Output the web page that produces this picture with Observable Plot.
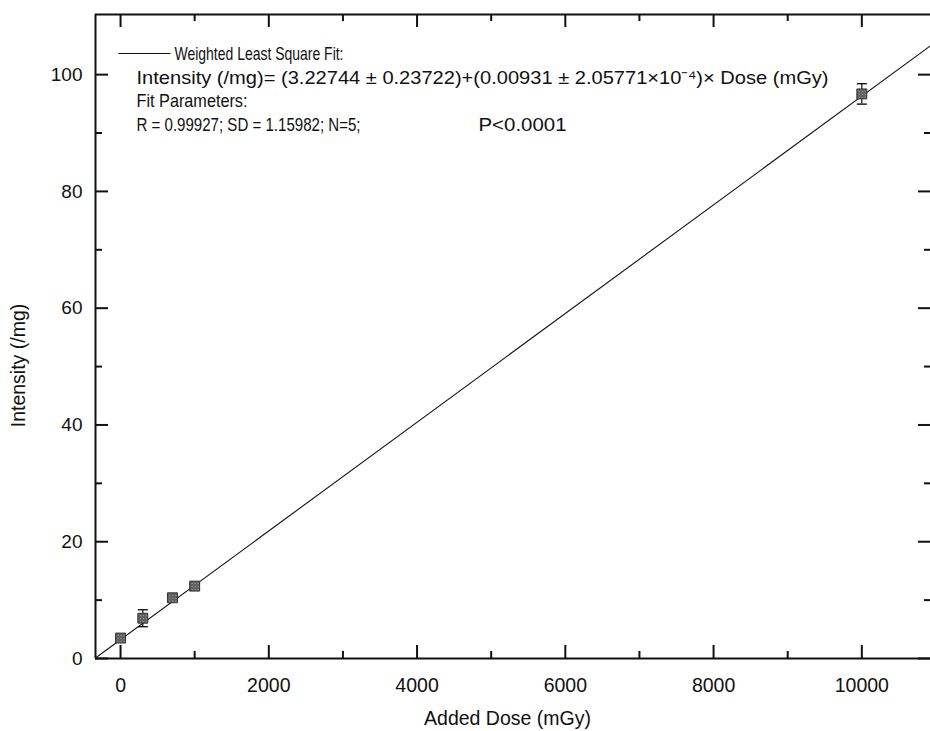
<!DOCTYPE html>
<html>
<head>
<meta charset="utf-8">
<script src="https://cdn.jsdelivr.net/npm/d3@7"></script>
<script src="https://cdn.jsdelivr.net/npm/@observablehq/plot@0.6"></script>
<style>
  html, body { margin: 0; padding: 0; background: #fff; overflow: hidden; }
  #chart svg { max-width: none; display: block; }
</style>
</head>
<body>
<div id="chart"></div>
<script>
// Measured intensity per added dose, with error-bar half-widths
const doses = [0, 300, 700, 1000, 10000];
const intensities = [3.5, 6.9, 10.4, 12.4, 96.7];
const errors = [0.4, 1.45, 0.6, 0.4, 1.75];

// Weighted least-square fit parameters
const fitIntercept = 3.22744;
const fitSlope = 0.00931;

// Axis ticks
const xMajorTicks = [0, 2000, 4000, 6000, 8000, 10000];
const xMinorTicks = [1000, 3000, 5000, 7000, 9000];
const yMajorTicks = [0, 20, 40, 60, 80, 100];
const yMinorTicks = [10, 30, 50, 70, 90];
const xDomain = [-338, 10940];
const yDomain = [0, 110.3];

// Fit annotation
const legendLabel = "Weighted Least Square Fit:";
const equationText = "Intensity (/mg)= (3.22744 \u00b1 0.23722)+(0.00931 \u00b1 2.05771\u00d710\u207b\u2074)\u00d7 Dose (mGy)";
const paramsTitle = "Fit Parameters:";
const paramsText = "R = 0.99927; SD = 1.15982; N=5;";
const pText = "P<0.0001";

const xTitle = "Added Dose (mGy)";
const yTitle = "Intensity (/mg)";

const points = doses.map((d, i) => ({
  dose: d, value: intensities[i], lo: intensities[i] - errors[i], hi: intensities[i] + errors[i]
}));
const fitLine = xDomain.map(x => ({dose: x, value: fitIntercept + fitSlope * x}));

// layout
const W = 940, H = 731, mT = 14, mB = 73, mL = 95, mR = 9;
const plotH = H - mT - mB, plotW = W - mL - mR;
const majorLen = 13, minorLen = 7;
const noteSize = 19;
// set widths of the annotation lines
const noteWidths = new Map([
  [legendLabel, 169], [equationText, 692], [paramsTitle, 111], [paramsText, 224], [pText, 88]
]);

// horizontal stroke used for error-bar caps and the legend sample
const hLine = {
  draw(context, size) {
    const r = Math.sqrt(size / Math.PI);
    context.moveTo(-r, 0);
    context.lineTo(r, 0);
  }
};

const font = "'Liberation Sans', Arial, Helvetica, sans-serif";
const ink = "#111";
const note = (text, dx, dy) => Plot.text([text], {
  frameAnchor: "top-left", dx, dy, textAnchor: "start", lineAnchor: "middle",
  fontSize: noteSize, fill: ink, ariaDescription: "note"
});

const chart = Plot.plot({
  width: W, height: H,
  marginTop: mT, marginBottom: mB, marginLeft: mL, marginRight: mR,
  style: {fontFamily: font, color: ink, background: "#fff"},
  x: {domain: xDomain},
  y: {domain: yDomain},
  marks: [
    // fit line
    Plot.line(fitLine, {x: "dose", y: "value", stroke: ink, strokeWidth: 1.1, clip: true}),
    // error bars
    Plot.ruleX(points, {x: "dose", y1: "lo", y2: "hi", stroke: ink, strokeWidth: 1.2}),
    Plot.dot(points, {x: "dose", y: "lo", symbol: hLine, r: 5, stroke: ink, strokeWidth: 1.4, fill: "none"}),
    Plot.dot(points, {x: "dose", y: "hi", symbol: hLine, r: 5, stroke: ink, strokeWidth: 1.4, fill: "none"}),
    // data squares
    Plot.dot(points, {x: "dose", y: "value", symbol: "square", r: 5.6, fill: "url(#hatch)", stroke: "#333", strokeWidth: 1}),

    // inward ticks: bottom and top
    Plot.tickX(xMajorTicks, {x: d => d, insetTop: plotH - majorLen, stroke: ink, strokeWidth: 2}),
    Plot.tickX(xMinorTicks, {x: d => d, insetTop: plotH - minorLen, stroke: ink, strokeWidth: 2}),
    Plot.tickX(xMajorTicks, {x: d => d, insetBottom: plotH - majorLen, stroke: ink, strokeWidth: 2}),
    Plot.tickX(xMinorTicks, {x: d => d, insetBottom: plotH - minorLen, stroke: ink, strokeWidth: 2}),
    // inward ticks: left and right
    Plot.tickY(yMajorTicks, {y: d => d, insetRight: plotW - majorLen, stroke: ink, strokeWidth: 2}),
    Plot.tickY(yMinorTicks, {y: d => d, insetRight: plotW - minorLen, stroke: ink, strokeWidth: 2}),
    Plot.tickY(yMajorTicks, {y: d => d, insetLeft: plotW - majorLen, stroke: ink, strokeWidth: 2}),
    Plot.tickY(yMinorTicks, {y: d => d, insetLeft: plotW - minorLen, stroke: ink, strokeWidth: 2}),

    // frame: left, bottom, top
    Plot.ruleX([xDomain[0]], {stroke: ink, strokeWidth: 2}),
    Plot.ruleY([yDomain[0]], {stroke: ink, strokeWidth: 2}),
    Plot.ruleY([yDomain[1]], {stroke: ink, strokeWidth: 2}),

    // tick labels
    Plot.axisX(xMajorTicks, {tickSize: 0, tickPadding: 20, fontSize: 19.5, label: null, tickFormat: d => String(d)}),
    Plot.axisY(yMajorTicks, {tickSize: 0, tickPadding: 13, fontSize: 19, label: null, tickFormat: d => String(d)}),

    // axis titles
    Plot.text([xTitle], {frameAnchor: "bottom", dx: -6, dy: 60, textAnchor: "middle", lineAnchor: "middle", fontSize: 19.5, fill: ink}),
    Plot.text([yTitle], {frameAnchor: "left", dx: -77, dy: 29, textAnchor: "middle", lineAnchor: "middle", rotate: -90, fontSize: 19.5, fill: ink}),

    // fit annotation
    Plot.dot([legendLabel], {frameAnchor: "top-left", dx: 49, dy: 39, symbol: hLine, r: 26, stroke: ink, strokeWidth: 1, fill: "none"}),
    note(legendLabel, 79, 39),
    note(equationText, 41, 63),
    note(paramsTitle, 41, 86),
    note(paramsText, 41, 110),
    note(pText, 383, 110)
  ]
});

// hatched fill for the data squares
const svg = d3.select(chart);
const defs = svg.insert("defs", ":first-child");
const pat = defs.append("pattern").attr("id", "hatch")
  .attr("width", 3).attr("height", 3).attr("patternUnits", "userSpaceOnUse");
pat.append("rect").attr("width", 3).attr("height", 3).attr("fill", "#555");
pat.append("rect").attr("width", 1).attr("height", 1).attr("fill", "#bbb");
pat.append("rect").attr("x", 1.5).attr("y", 1.5).attr("width", 1).attr("height", 1).attr("fill", "#999");

// fit each annotation line to its set width
svg.selectAll("g[aria-description=note] text").each(function () {
  const w = noteWidths.get(this.textContent);
  if (w) {
    this.setAttribute("textLength", w);
    this.setAttribute("lengthAdjust", "spacingAndGlyphs");
  }
});

document.getElementById("chart").appendChild(chart);
</script>
</body>
</html>
